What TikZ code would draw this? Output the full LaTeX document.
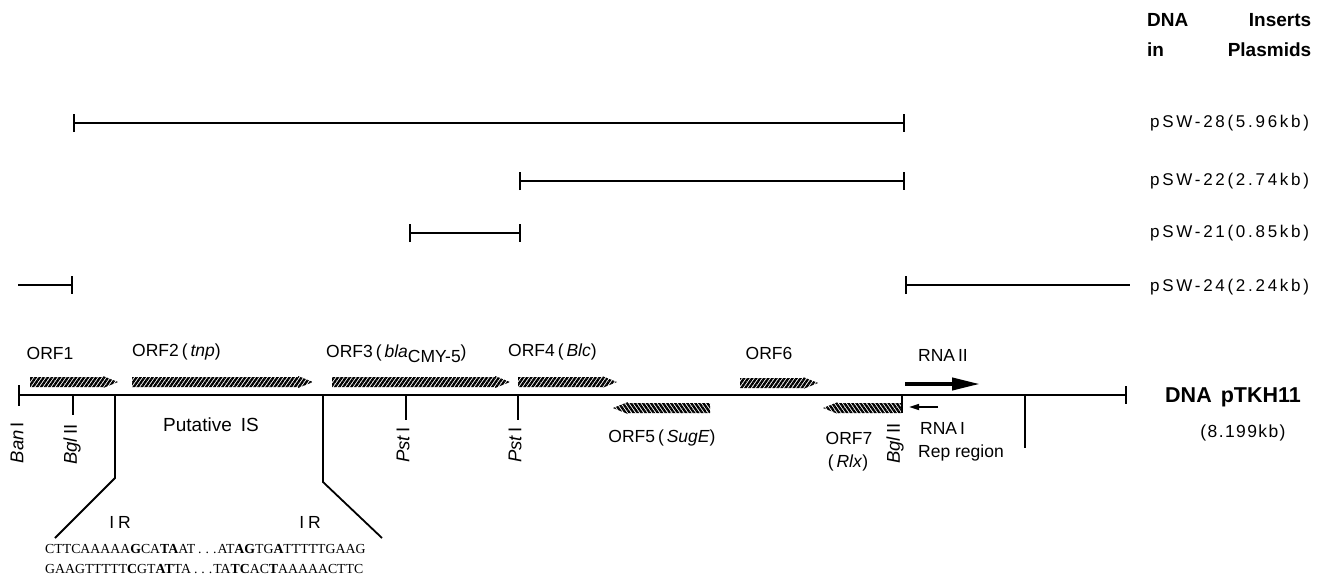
\documentclass[tikz,border=0pt]{standalone}
\usepackage{fontspec}
\setmainfont{Liberation Sans}
\newfontfamily\seqfont{Liberation Serif}
\usetikzlibrary{patterns.meta,arrows.meta}

\newcommand\orfarrowR[4]{% name, x1, x2, y
  \path[orfbody,pattern={Lines[angle=55,distance=3.3pt,line width=2.3pt]}]
    (#2,#4-5) -- (#3-15,#4-5) -- (#3-15,#4-6) -- (#3,#4) -- (#3-15,#4+6) -- (#3-15,#4+5) -- (#2,#4+5) -- cycle;
  \coordinate (#1) at ({(#2+#3)/2},#4);}
\newcommand\orfarrowL[4]{% name, x1(tip), x2, y
  \path[orfbody,pattern={Lines[angle=-55,distance=3.3pt,line width=2.3pt]}]
    (#3,#4-5) -- (#2+15,#4-5) -- (#2+15,#4-6) -- (#2,#4) -- (#2+15,#4+6) -- (#2+15,#4+5) -- (#3,#4+5) -- cycle;
  \coordinate (#1) at ({(#2+#3)/2},#4);}

\begin{document}
\begin{tikzpicture}[x=1pt,y=-1pt,
  orfbody/.style={pattern color=black},
  lbl/.style={inner sep=0pt, font=\fontsize{17.5}{19}\selectfont},
  rlbl/.style={inner sep=0pt, font=\fontsize{18.5}{20}\selectfont, rotate=90, anchor=east},
  psw/.style={inner sep=0pt, anchor=west, font=\fontsize{17}{19}\selectfont\addfontfeature{LetterSpace=16}},
  ttl/.style={inner sep=0pt, anchor=west, font=\fontsize{19}{21}\selectfont\bfseries},
  insline/.style={line width=1.3pt},
  bothbar/.style={insline,{Bar[width=18pt,line width=1.8pt]}-{Bar[width=18pt,line width=1.8pt]}},
  leftbar/.style={insline,{Bar[width=18pt,line width=1.8pt]}-},
  rightbar/.style={insline,-{Bar[width=18pt,line width=1.8pt]}},
  site/.style={line width=1.8pt},
  isline/.style={line width=1.8pt},
  seq/.style={inner sep=0pt, font=\fontsize{13.8}{20}\seqfont, align=left}
]
\useasboundingbox (0,0) rectangle (1323,578);

% title
\node[ttl] (t1) at (1147,20) {\makebox[164pt][s]{DNA\hfill Inserts}};
\node[ttl] (t2) at (1147,50) {\makebox[164pt][s]{in\hfill Plasmids}};

% inserts
\coordinate (a28) at (73,123);  \coordinate (b28) at (905,123);
\coordinate (a22) at (519,181); \coordinate (b22) at (905,181);
\coordinate (a21) at (409,233); \coordinate (b21) at (521,233);
\coordinate (a24) at (18,285);  \coordinate (b24) at (73,285);
\coordinate (c24) at (905,285); \coordinate (d24) at (1130,285);
\draw[bothbar] (a28) -- (b28);
\draw[bothbar] (a22) -- (b22);
\draw[bothbar] (a21) -- (b21);
\draw[rightbar] (a24) -- (b24);
\draw[leftbar] (c24) -- (d24);
\node[psw] (p28) at (1150,123) {pSW-28(5.96kb)};
\node[psw] (p22) at (1150,181) {pSW-22(2.74kb)};
\node[psw] (p21) at (1150,233) {pSW-21(0.85kb)};
\node[psw] (p24) at (1150,287) {pSW-24(2.24kb)};

% main DNA line
\coordinate (m0) at (18,395); \coordinate (m1) at (1127,395);
\draw[insline,{Bar[width=21pt,line width=1.8pt]}-{Bar[width=18pt,line width=1.8pt]}] (m0) -- (m1);
\node[inner sep=0pt, anchor=west, font=\fontsize{21.5}{24}\selectfont\bfseries] (dna) at (1165,397) {DNA\hspace{9pt}pTKH11};
\node[inner sep=0pt, font=\fontsize{17.5}{19}\selectfont\addfontfeature{LetterSpace=8}] (kb) at (1243,433) {(8.199kb)};

% restriction sites
\coordinate (bg1) at (73,395);  \coordinate (bg1e) at (73,415);
\coordinate (ps1) at (406,395); \coordinate (ps1e) at (406,420);
\coordinate (ps2) at (518,395); \coordinate (ps2e) at (518,420);
\coordinate (bg2) at (902,395); \coordinate (bg2e) at (902,413);
\draw[site] (bg1) -- (bg1e);
\draw[site] (ps1) -- (ps1e);
\draw[site] (ps2) -- (ps2e);
\draw[site] (bg2) -- (bg2e);
\node[rlbl] (ban) at (17,422) {\textit{Ban}\hspace{3pt}I};
\node[rlbl] (bgl1) at (72,424) {\textit{Bgl}\hspace{3pt}II};
\node[rlbl] (pst1) at (403,427) {\textit{Pst}\hspace{3pt}I};
\node[rlbl] (pst2) at (515,427) {\textit{Pst}\hspace{3pt}I};
\node[rlbl] (bgl2) at (895,423) {\textit{Bgl}\hspace{3pt}II};

% putative IS
\coordinate (isl0) at (115,395); \coordinate (isl1) at (115,478); \coordinate (isl2) at (55,538);
\coordinate (isr0) at (323,395); \coordinate (isr1) at (323,482); \coordinate (isr2) at (382,538);
\draw[isline] (isl0) -- (isl1) -- (isl2);
\draw[isline] (isr0) -- (isr1) -- (isr2);
\node[inner sep=0pt, font=\fontsize{19}{21}\selectfont] (pis) at (211,425) {Putative\hspace{9pt}IS};
\node[lbl] (ir1) at (120,522) {I\hspace{4pt}R};
\node[lbl] (ir2) at (310,522) {I\hspace{4pt}R};
\node[seq, anchor=north west] (seq) at (45,544) {%
CTTCAAAAA\textbf{G}CA\textbf{TA}AT\hspace{3pt}.\hspace{4pt}.\hspace{4pt}.\hspace{1pt}AT\textbf{AG}TG\textbf{A}TTTTTGAAG\\
GAAGTTTTT\textbf{C}GT\textbf{AT}TA\hspace{3pt}.\hspace{4pt}.\hspace{4pt}.\hspace{1pt}TA\textbf{TC}AC\textbf{T}AAAAACTTC};

% rep region
\coordinate (rp0) at (1025,395); \coordinate (rp1) at (1025,448);
\draw[site] (rp0) -- (rp1);

% ORF arrows
\orfarrowR{o1}{30}{118}{382}
\orfarrowR{o2}{132}{313}{382}
\orfarrowR{o3}{332}{510}{382}
\orfarrowR{o4}{518}{617}{382}
\orfarrowR{o6}{740}{818}{383}
\orfarrowL{o5}{613}{710}{408}
\orfarrowL{o7}{823}{902}{408}

% RNA arrows
\coordinate (r2a) at (905,384); \coordinate (r2b) at (980,384);
\draw[line width=4pt,-{Triangle[length=28pt,width=12pt]}] (r2a) -- (r2b);
\coordinate (r1a) at (938,407); \coordinate (r1b) at (909,407);
\draw[line width=1.6pt,-{Triangle[length=10pt,width=6pt]}] (r1a) -- (r1b);

% ORF labels
\node[lbl] (l1) at (50,353) {ORF1};
\node[lbl, anchor=west] (l2) at (132,352) {ORF2\,(\,\textit{tnp})};
\node[lbl, anchor=west] (l3) at (326,354) {ORF3\,(\,\textit{bla}\raisebox{-5pt}{CMY-5})};
\node[lbl, anchor=west] (l4) at (508,352) {ORF4\,(\,\textit{Blc})};
\node[lbl] (l5) at (662,438) {ORF5\,(\,\textit{SugE})};
\node[lbl] (l6) at (769,353) {ORF6};
\node[lbl] (l7) at (849,438) {ORF7};
\node[lbl] (l7b) at (848,463) {(\,\textit{Rlx})};
\node[lbl, anchor=west] (rna2) at (918,355) {RNA\,II};
\node[lbl, anchor=west] (rna1) at (920,428) {RNA\,I};
\node[lbl, anchor=west] (rep) at (918,453) {Rep region};
\end{tikzpicture}
\end{document}
